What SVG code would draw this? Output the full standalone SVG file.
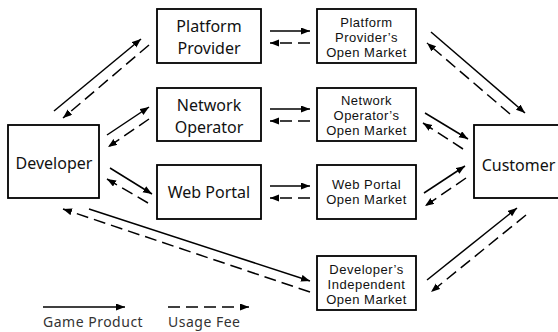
<svg xmlns="http://www.w3.org/2000/svg" width="558" height="332" viewBox="0 0 558 332">
<style>
.box{fill:#fff;stroke:#000;stroke-width:1.8}
.lt{font-family:"Noto Sans","Open Sans",sans-serif;font-size:16px;fill:#111;text-anchor:middle}
.rt{font-family:"Liberation Sans",Arial,sans-serif;font-size:13px;fill:#111;text-anchor:middle;letter-spacing:0.5px}
.lg{font-family:"Noto Sans","Open Sans",sans-serif;font-size:14px;fill:#333;letter-spacing:0.5px}
.s{stroke:#000;stroke-width:1.5;fill:none;marker-end:url(#ah)}
.d{stroke:#000;stroke-width:1.5;fill:none;stroke-dasharray:12 6;marker-end:url(#ah)}
</style>
<defs>
<marker id="ah" markerUnits="userSpaceOnUse" markerWidth="10" markerHeight="8" refX="9" refY="3.5" orient="auto">
<path d="M0,0 L9,3.5 L0,7 z" fill="#000"/>
</marker>
</defs>
<rect width="558" height="332" fill="#fff"/>
<g id="developer"><rect class="box" x="8" y="125" width="91" height="73"/><text class="lt" x="54" y="169">Developer</text></g>
<g id="platform-provider"><rect class="box" x="157" y="9" width="104" height="54"/><text class="lt" x="209" y="32">Platform</text><text class="lt" x="209" y="53.5">Provider</text></g>
<g id="network-operator"><rect class="box" x="157" y="88" width="104" height="53"/><text class="lt" x="209" y="111">Network</text><text class="lt" x="209" y="132.5">Operator</text></g>
<g id="web-portal"><rect class="box" x="157" y="165" width="104" height="54"/><text class="lt" x="209" y="198">Web Portal</text></g>
<g id="pp-market"><rect class="box" x="317" y="9" width="99" height="54"/><text class="rt" x="366.5" y="27">Platform</text><text class="rt" x="366.5" y="42">Provider’s</text><text class="rt" x="366.5" y="57">Open Market</text></g>
<g id="no-market"><rect class="box" x="317" y="88" width="99" height="53"/><text class="rt" x="366.5" y="105">Network</text><text class="rt" x="366.5" y="120">Operator’s</text><text class="rt" x="366.5" y="135">Open Market</text></g>
<g id="wp-market"><rect class="box" x="317" y="165" width="99" height="54"/><text class="rt" x="366.5" y="189">Web Portal</text><text class="rt" x="366.5" y="204">Open Market</text></g>
<g id="dev-market"><rect class="box" x="317" y="256" width="99" height="54"/><text class="rt" x="366.5" y="274">Developer’s</text><text class="rt" x="366.5" y="289">Independent</text><text class="rt" x="366.5" y="304">Open Market</text></g>
<g id="customer"><rect class="box" x="474" y="125" width="90" height="73"/><text class="lt" x="518.5" y="171">Customer</text></g>
<g id="connectors">
<line class="s" x1="54" y1="111" x2="141" y2="39"/>
<line class="d" x1="149" y1="45" x2="63" y2="118"/>
<line class="s" x1="107" y1="135" x2="149" y2="107"/>
<line class="d" x1="149" y1="119" x2="108" y2="147"/>
<line class="s" x1="110" y1="168" x2="152" y2="194"/>
<line class="d" x1="148" y1="203" x2="107" y2="179"/>
<line class="s" x1="89" y1="209" x2="310" y2="281"/>
<line class="d" x1="310" y1="292" x2="63" y2="209"/>
<line class="s" x1="270" y1="31" x2="310" y2="31"/>
<line class="d" x1="310" y1="43" x2="270" y2="43"/>
<line class="s" x1="270" y1="109" x2="310" y2="109"/>
<line class="d" x1="310" y1="121" x2="270" y2="121"/>
<line class="s" x1="270" y1="186" x2="310" y2="186"/>
<line class="d" x1="310" y1="198" x2="270" y2="198"/>
<line class="s" x1="431" y1="32" x2="525" y2="113"/>
<line class="d" x1="510" y1="114" x2="427" y2="43"/>
<line class="s" x1="425" y1="113" x2="468" y2="139"/>
<line class="d" x1="463" y1="149" x2="423" y2="123"/>
<line class="s" x1="424" y1="193" x2="465" y2="166"/>
<line class="d" x1="466" y1="178" x2="425" y2="206"/>
<line class="s" x1="427" y1="280" x2="517" y2="208"/>
<line class="d" x1="526" y1="215" x2="431" y2="292"/>
</g>
<g id="legend">
<line class="s" x1="43" y1="307" x2="125" y2="307"/>
<line class="d" x1="168" y1="307" x2="249" y2="307"/>
<text class="lg" x="43" y="327">Game Product</text>
<text class="lg" x="168" y="327">Usage Fee</text>
</g>
</svg>
